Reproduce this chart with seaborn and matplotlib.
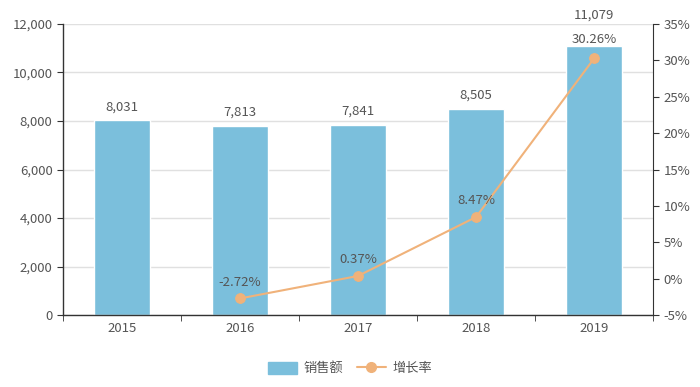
import matplotlib
matplotlib.use('Agg')
import matplotlib.pyplot as plt
import seaborn as sns
from matplotlib.ticker import FuncFormatter, FixedLocator
from matplotlib.lines import Line2D
from matplotlib.patches import FancyBboxPatch

years = ['2015', '2016', '2017', '2018', '2019']
sales = [8031, 7813, 7841, 8505, 11079]
rate_years = ['2016', '2017', '2018', '2019']
rates = [-2.72, 0.37, 8.47, 30.26]

bar_color = '#7bbfdc'
line_color = '#f0b27a'
text_color = '#555555'

sns.set_style('white')
plt.rcParams['font.family'] = ['Noto Sans CJK SC', 'DejaVu Sans']

fig = plt.figure(figsize=(7, 3.87), dpi=100)
ax = fig.add_axes([0.09, 0.186, 0.843, 0.752])

sns.barplot(x=years, y=sales, color=bar_color, width=0.47, saturation=1, ax=ax)
ax.set_ylim(0, 12000)
ax.set_xlim(-0.5, 4.5)
ax.set_yticks(range(0, 12001, 2000))
ax.yaxis.set_major_formatter(FuncFormatter(lambda v, p: f'{int(v):,}'))
ax.grid(axis='y', color='#e0e0e0', linewidth=1)
ax.set_axisbelow(True)

for i, v in enumerate(sales):
    off = 18 if i == 4 else 5
    ax.annotate(f'{v:,}', (i, v), xytext=(0, off), textcoords='offset points',
                ha='center', va='bottom', fontsize=9.5, color=text_color)

for s in ['top', 'right']:
    ax.spines[s].set_visible(False)
for s in ['left', 'bottom']:
    ax.spines[s].set_color('#333333')
    ax.spines[s].set_linewidth(1)
ax.tick_params(axis='y', length=4, color='#333333', labelsize=9.5, labelcolor=text_color, left=True)
ax.tick_params(axis='x', length=0, labelsize=9.5, labelcolor=text_color, pad=5)
ax.xaxis.set_minor_locator(FixedLocator([i - 0.5 for i in range(6)]))
ax.tick_params(axis='x', which='minor', length=4, color='#333333', bottom=True)

ax2 = ax.twinx()
pos = [years.index(y) for y in rate_years]
sns.lineplot(x=pos, y=rates, ax=ax2, color=line_color, linewidth=1.5,
             marker='o', markersize=7, markeredgecolor=line_color)
ax2.set_ylim(-5, 35)
ax2.set_yticks(range(-5, 36, 5))
ax2.yaxis.set_major_formatter(FuncFormatter(lambda v, p: f'{int(v)}%'))
ax2.set_xlim(-0.5, 4.5)
for s in ['top', 'left', 'bottom']:
    ax2.spines[s].set_visible(False)
ax2.spines['right'].set_color('#333333')
ax2.tick_params(axis='y', length=4, color='#333333', labelsize=9.5, labelcolor=text_color, right=True)
ax2.grid(False)

for x, r in zip(pos, rates):
    off = 9 if x == 4 else 7
    ax2.annotate(f'{r:.2f}%', (x, r), xytext=(0, off), textcoords='offset points',
                 ha='center', va='bottom', fontsize=9.5, color=text_color)

# legend
handles = [FancyBboxPatch((0, 0), 1, 1, boxstyle='round,pad=0.1', color=bar_color),
           Line2D([0], [0], color=line_color, marker='o', markersize=7, linewidth=1.5)]
fig.legend(handles, ['销售额', '增长率'], loc='center', bbox_to_anchor=(0.5, 0.048),
           ncol=2, frameon=False, fontsize=9.5, handlelength=2.2, handleheight=1.1,
           columnspacing=1.0, handletextpad=0.5, labelcolor=text_color)

fig.savefig('out.png', dpi=100)
